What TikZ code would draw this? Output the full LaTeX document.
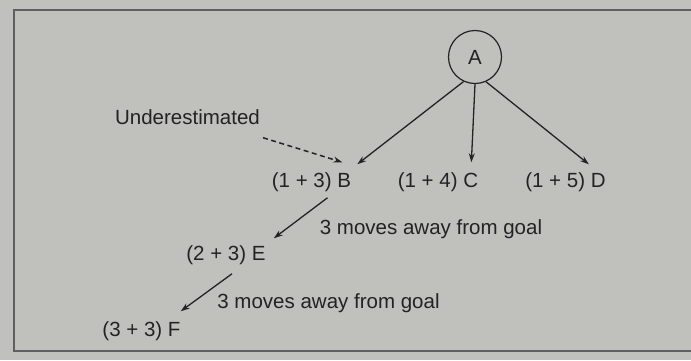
\documentclass[tikz,border=0pt]{standalone}
\usepackage{fontspec}
\setmainfont{Liberation Sans}
\usetikzlibrary{arrows.meta,calc}
\definecolor{bg}{RGB}{192,192,189}
\definecolor{ink}{RGB}{35,35,35}
\definecolor{frame}{RGB}{95,95,95}
\begin{document}
\begin{tikzpicture}[x=1pt,y=-1pt,
  lbl/.style={inner sep=0pt,text=ink,font=\fontsize{20.5}{23}\selectfont},
  conn/.style={draw=ink,line width=1.3pt,-{Stealth[length=9pt,width=6pt]}},
  dconn/.style={conn,dash pattern=on 5pt off 3.5pt,line width=1.5pt}]
\fill[bg] (0,0) rectangle (691,360);
\useasboundingbox (0,0) rectangle (691,360);
\draw[frame,line width=1.5pt] (691,10) -- (14,10) -- (14,351) -- (691,351);
\node[circle,draw=ink,line width=1.2pt,minimum size=53pt,inner sep=0pt,lbl] (A) at (475,57) {A};
\node[lbl] (B) at (311.5,182) {(1 + 3) B};
\node[lbl] (C) at (438,182) {(1 + 4) C};
\node[lbl] (D) at (565.5,182) {(1 + 5) D};
\node[lbl] (E) at (226,255) {(2 + 3) E};
\node[lbl] (F) at (141.5,331) {(3 + 3) F};
\node[lbl] (U) at (187.5,117) {Underestimated};
\node[lbl] (L1) at (431,229) {3 moves away from goal};
\node[lbl] (L2) at (328.5,303) {3 moves away from goal};
\draw[conn] (A.245) -- ($(B.north east)+(6,-8)$);
\draw[conn] (A.south) -- ($(C.north east)+(-7,-10)$);
\draw[conn] (A.294) -- ($(D.north east)+(-17,-8)$);
\draw[dconn] ($(U.south east)+(3,13)$) -- ($(B.north east)+(-9,-10)$);
\draw[conn] ($(B.south)+(16,6)$) -- ($(E.north east)+(8,-7)$);
\draw[conn] ($(E.south)+(6,9)$) -- ($(F.north east)+(0,-10)$);
\end{tikzpicture}
\end{document}
